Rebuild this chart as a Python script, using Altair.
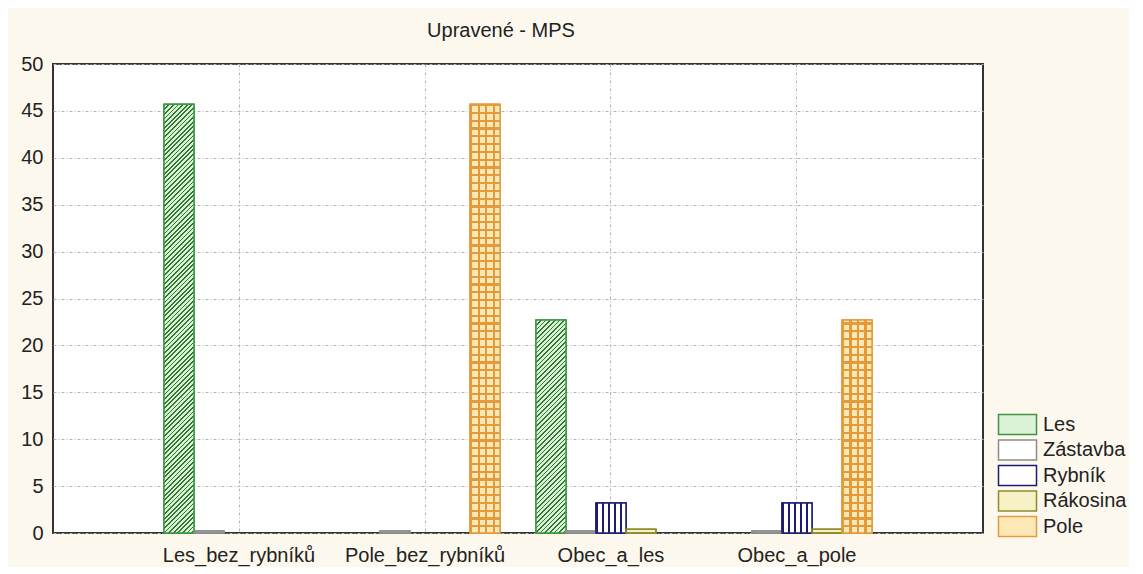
import altair as alt
import pandas as pd

# ---------------- data ----------------
categories = ["Les_bez_rybníků", "Pole_bez_rybníků", "Obec_a_les", "Obec_a_pole"]
series = ["Les", "Zástavba", "Rybník", "Rákosina", "Pole"]
les = [45.7, 0.0, 22.7, 0.0]
zastavba = [0.2, 0.2, 0.2, 0.2]
rybnik = [0.0, 0.0, 3.2, 3.2]
rakosina = [0.0, 0.0, 0.4, 0.4]
pole = [0.0, 45.7, 0.0, 22.7]
y_ticks = [0, 5, 10, 15, 20, 25, 30, 35, 40, 45, 50]
title_text = "Upravené - MPS"

series_values = {"Les": les, "Zástavba": zastavba, "Rybník": rybnik,
                 "Rákosina": rakosina, "Pole": pole}
df = pd.DataFrame([
    {"kategorie": c, "typ": s, "hodnota": v}
    for s in series for c, v in zip(categories, series_values[s])
])

# ---------------- style ----------------
PLOT_W, PLOT_H = 930, 469
Y_MAX = 50
BAR_W = 30
FONT = "Liberation Sans"
TEXT = "#222222"
fill_colors = ["#dcf2d6", "#ffffff", "#ffffff", "#f7f1c6", "#fde8b6"]
stroke_colors = ["#3f9444", "#8c8c8c", "#1c1c70", "#8f8b2c", "#e59a3a"]
GRID = "#b4b4b4"


def stripe_stops(total, period, width, bg, fg, phase=0.0):
    stops = [{"offset": 0.0, "color": bg}]
    pos = phase
    while pos < total:
        a = round(max(pos, 0.0) / total, 5)
        b = round(min(pos + width, total) / total, 5)
        stops += [{"offset": a, "color": bg}, {"offset": a, "color": fg},
                  {"offset": b, "color": fg}, {"offset": b, "color": bg}]
        pos += period
    stops.append({"offset": 1.0, "color": bg})
    return stops


def vertical_lines(period, width, bg, fg):
    return {"gradient": "linear", "x1": 0, "y1": 0, "x2": 1, "y2": 0,
            "stops": stripe_stops(BAR_W, period, width, bg, fg)}


def horizontal_lines(h, period, width, bg, fg):
    return {"gradient": "linear", "x1": 0, "y1": 0, "x2": 0, "y2": 1,
            "stops": stripe_stops(h, period, width, bg, fg, phase=(h % period) - period)}


def diagonal_lines(h, period, width, bg, fg):
    w = BAR_W
    k = (w + h) / (w * w + h * h)
    return {"gradient": "linear", "x1": 0, "y1": 0,
            "x2": round(w * k, 6), "y2": round(h * k, 6),
            "stops": stripe_stops(w + h, period, width, bg, fg)}


def px(v):
    return v * PLOT_H / Y_MAX


# ---------------- encodings ----------------
x_enc = alt.X(
    "kategorie:N", sort=categories,
    scale=alt.Scale(domain=categories, paddingInner=0.1935, paddingOuter=0.5968),
    axis=alt.Axis(title=None, labelAngle=0, labelFontSize=20, labelFont=FONT,
                  labelColor=TEXT, labelPadding=12, labelLimit=300, labelOverlap=False,
                  ticks=False, domain=False, grid=True, gridColor=GRID,
                  gridDash=[3, 2, 1, 2], bandPosition=0.5),
)
y_enc = alt.Y(
    "hodnota:Q",
    scale=alt.Scale(domain=[0, Y_MAX], nice=False),
    axis=alt.Axis(title=None, values=y_ticks, labelFontSize=20, labelFont=FONT,
                  labelColor=TEXT, labelPadding=10, ticks=False, domain=False,
                  grid=True, gridColor=GRID, gridDash=[3, 2, 1, 2],
                  minExtent=32, maxExtent=32),
)
xoff = alt.XOffset("typ:N", sort=series,
                   scale=alt.Scale(domain=series, paddingInner=0, paddingOuter=0))

legend = alt.Legend(
    title=None, orient="none", legendX=954, legendY=350,
    symbolType="M-2,-1.05H2V1.05H-2Z", symbolSize=361, symbolStrokeWidth=1.5,
    labelFontSize=20, labelFont=FONT, labelColor=TEXT, labelOffset=15, rowPadding=-1.5,
)
fill_scale = alt.Scale(domain=series, range=fill_colors)
stroke_scale = alt.Scale(domain=series, range=stroke_colors)

nonzero = alt.datum.hodnota > 0

base = alt.Chart(df).transform_filter(nonzero).mark_bar(strokeWidth=1.5).encode(
    x=x_enc, xOffset=xoff, y=y_enc,
    fill=alt.Fill("typ:N", sort=series, scale=fill_scale, legend=legend),
    stroke=alt.Stroke("typ:N", sort=series, scale=stroke_scale, legend=legend),
)

layers = [base]

# Rybník: vertical navy lines
layers.append(
    alt.Chart(df).transform_filter(
        (alt.datum.typ == "Rybník") & nonzero
    ).mark_bar(fill=vertical_lines(6, 2, "#ffffff", stroke_colors[2])).encode(
        x=x_enc, xOffset=xoff, y=y_enc)
)
# Pole: vertical orange lines
layers.append(
    alt.Chart(df).transform_filter(
        (alt.datum.typ == "Pole") & nonzero
    ).mark_bar(fill=vertical_lines(7.5, 2.2, fill_colors[4], stroke_colors[4])).encode(
        x=x_enc, xOffset=xoff, y=y_enc)
)
# per-bar patterns depending on bar height
for c, v in zip(categories, les):
    if v > 1:
        layers.append(
            alt.Chart(df).transform_filter(
                (alt.datum.typ == "Les") & (alt.datum.kategorie == c)
            ).mark_bar(fill=diagonal_lines(px(v), 4.6, 1.7, fill_colors[0], "#2f7a33")).encode(
                x=x_enc, xOffset=xoff, y=y_enc)
        )
for c, v in zip(categories, pole):
    if v > 1:
        layers.append(
            alt.Chart(df).transform_filter(
                (alt.datum.typ == "Pole") & (alt.datum.kategorie == c)
            ).mark_bar(fill=horizontal_lines(px(v), 7.8, 2.2, "rgba(255,255,255,0)", stroke_colors[4])).encode(
                x=x_enc, xOffset=xoff, y=y_enc)
        )

outline = alt.Chart(df).transform_filter(nonzero).mark_bar(fillOpacity=0, strokeWidth=1.5).encode(
    x=x_enc, xOffset=xoff, y=y_enc,
    stroke=alt.Stroke("typ:N", sort=series, scale=stroke_scale, legend=None),
)
layers.append(outline)

chart = alt.layer(*layers).properties(
    width=PLOT_W, height=PLOT_H,
    title=alt.TitleParams(title_text, fontSize=20, font=FONT, fontWeight="normal",
                          color=TEXT, offset=13, dx=-17, anchor="middle"),
    padding={"left": 12, "top": 13, "right": 2, "bottom": 2},
    background="#fcf8ee",
).configure_view(fill="white", stroke="#333333", strokeWidth=2)

chart.save("out.html", embed_options={"renderer": "svg", "actions": False})
